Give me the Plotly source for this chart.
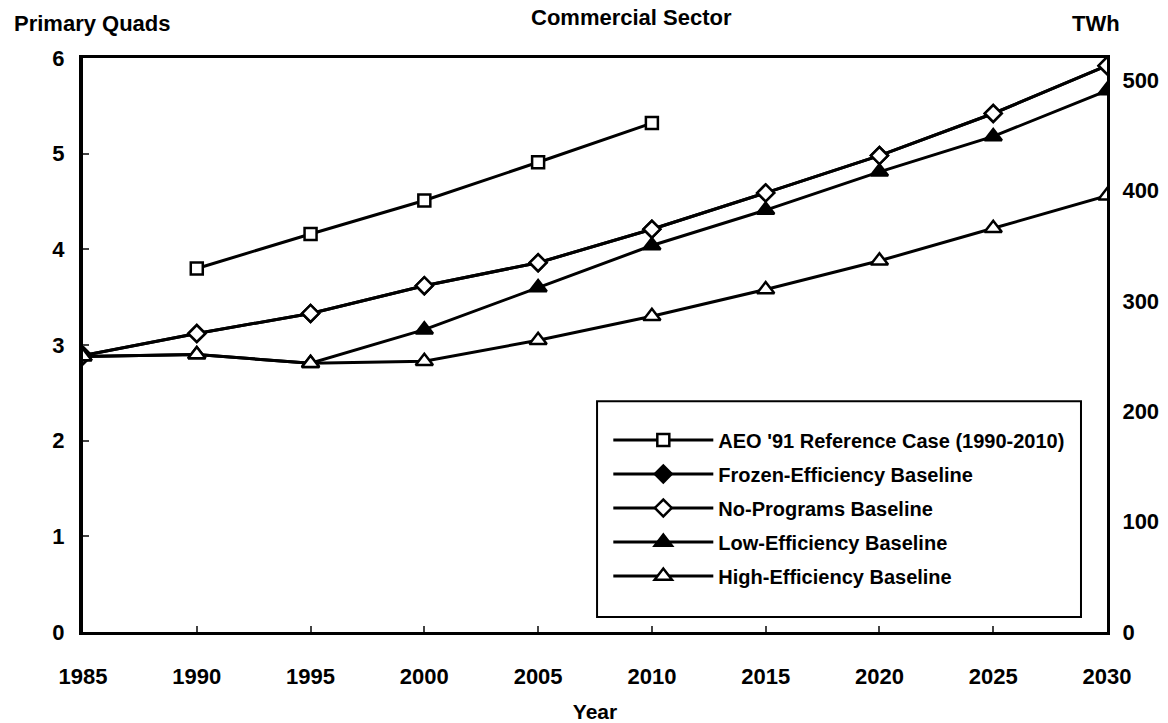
import plotly.graph_objects as go

# data (primary quads)
years = [1985, 1990, 1995, 2000, 2005, 2010, 2015, 2020, 2025, 2030]
aeo_years = [1990, 1995, 2000, 2005, 2010]
aeo_ref = [3.80, 4.16, 4.51, 4.91, 5.32]
no_programs = [2.89, 3.12, 3.33, 3.62, 3.86, 4.21, 4.59, 4.98, 5.42, 5.92]
frozen_eff = [2.89, 3.12, 3.33, 3.62, 3.86, 4.21, 4.59, 4.98, 5.42, 5.92]
low_eff = [2.88, 2.90, 2.81, 3.16, 3.60, 4.04, 4.41, 4.81, 5.18, 5.66]
high_eff = [2.88, 2.90, 2.81, 2.83, 3.05, 3.30, 3.58, 3.88, 4.22, 4.56]

x_ticks = [1985, 1990, 1995, 2000, 2005, 2010, 2015, 2020, 2025, 2030]
twh_ticks = [0, 100, 200, 300, 400, 500]

FONT = "Liberation Sans"
line = dict(color="black", width=3)

fig = go.Figure()

def add(name, x, y, symbol, size, fill, group):
    fig.add_trace(go.Scatter(
        x=x, y=y, name=name, mode="lines+markers", line=line,
        legendgroup=group,
        marker=dict(symbol=symbol, size=size, color=fill,
                    line=dict(color="black", width=2.5)),
    ))

# open markers get a white fill so the lines do not show through
add("AEO '91 Reference Case (1990-2010)", aeo_years, aeo_ref, "square", 12, "white", "a")
add("Frozen-Efficiency Baseline", years, frozen_eff, "diamond", 13, "black", "b")
add("No-Programs Baseline", years, no_programs, "diamond", 13, "white", "c")
add("Low-Efficiency Baseline", years, low_eff, "triangle-up", 15, "black", "d")
add("High-Efficiency Baseline", years, high_eff, "triangle-up", 15, "white", "e")

# plot area 1024 x 574 px
fig.update_layout(
    width=1168, height=723,
    margin=dict(l=83, r=61, t=58, b=91),
    plot_bgcolor="white", paper_bgcolor="white",
    font=dict(family=FONT, size=22, color="black", weight="bold"),
    xaxis=dict(
        range=[1985, 2030], tickvals=x_ticks, ticks="inside", ticklen=6, tickwidth=2,
        showline=True, linewidth=3, linecolor="black", mirror=True,
        showgrid=False, zeroline=False, ticklabelstandoff=23, automargin=False,
        title=dict(text="Year", font=dict(size=21), standoff=19),
    ),
    yaxis=dict(
        range=[0, 6], dtick=1, ticks="inside", ticklen=6, tickwidth=2,
        showline=True, linewidth=4, linecolor="black",
        showgrid=False, zeroline=False, ticklabelstandoff=10, automargin=False,
    ),
    yaxis2=dict(
        overlaying="y", side="right", range=[0, 520], tickvals=twh_ticks,
        ticks="", showline=True, linewidth=3, linecolor="black",
        showgrid=False, zeroline=False, ticklabelstandoff=8, automargin=False,
    ),
    legend=dict(
        x=0.513, y=0.3685, xanchor="left", yanchor="top",
        borderwidth=0, bgcolor="rgba(0,0,0,0)",
        font=dict(size=20), itemwidth=100, tracegroupgap=5,
    ),
    shapes=[
        dict(type="rect", xref="paper", yref="paper", x0=0.502, x1=0.9746, y0=0.026, y1=0.402,
             line=dict(color="black", width=2), fillcolor="white", layer="below"),
    ],
    annotations=[
        dict(text="Primary Quads", x=0, y=1, xref="paper", yref="paper", xshift=-71, yshift=35,
             xanchor="left", yanchor="middle", showarrow=False, font=dict(size=22)),
        dict(text="Commercial Sector", x=0.536, y=1, xref="paper", yref="paper", yshift=41,
             xanchor="center", yanchor="middle", showarrow=False, font=dict(size=22)),
        dict(text="TWh", x=1, y=1, xref="paper", yref="paper", xshift=-37, yshift=35,
             xanchor="left", yanchor="middle", showarrow=False, font=dict(size=22)),
    ],
)

# make the right axis appear
fig.add_trace(go.Scatter(x=[None], y=[None], yaxis="y2", showlegend=False, hoverinfo="skip"))

# drop the browser's default body margin so the figure sits at the page corner
fig.write_html("out.html", config={"displayModeBar": False},
               post_script="document.body.style.margin = '0';")
